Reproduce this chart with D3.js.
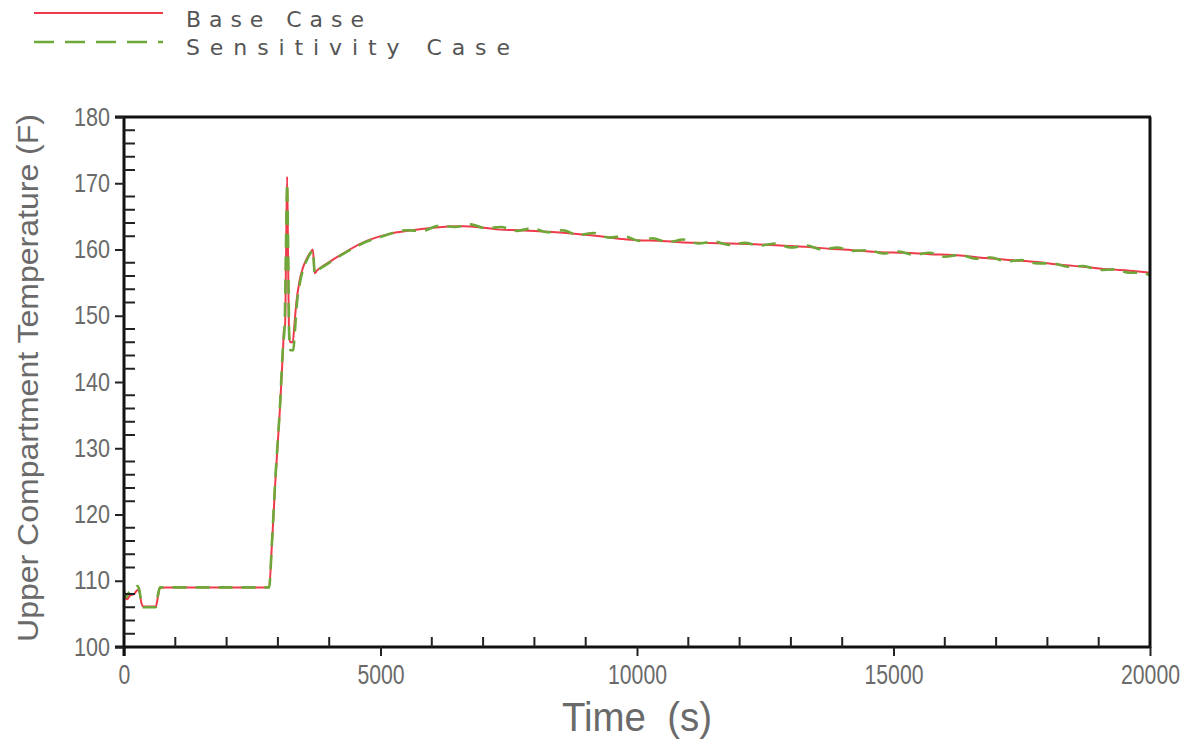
<!DOCTYPE html>
<html><head><meta charset="utf-8">
<script src="https://cdn.jsdelivr.net/npm/d3@7"></script>
<style>body{margin:0;background:#fff}svg{display:block}</style>
</head><body>
<svg id="c" width="1196" height="749"></svg>
<script>
const seriesNames = ["Base Case", "Sensitivity Case"];
const baseCase = [[0,107.6],[60,107.2],[120,107.8],[200,108.0],[260,108.6],[300,108.3],[340,106.6],[380,106.1],[620,106.1],[660,107.5],[700,108.9],[800,109.0],[2830,109.0],[2880,115],[2950,125],[3040,136],[3100,145],[3120,148],[3140,148.5],[3160,160],[3180,171],[3200,158],[3215,148],[3235,146],[3290,146],[3320,148.5],[3360,152],[3420,155.2],[3490,157.3],[3560,158.6],[3640,159.6],[3680,160.0],[3720,156.4],[3760,156.8],[3900,157.6],[4080,158.5],[4400,160.0],[4730,161.3],[5000,162.0],[5190,162.4],[5600,162.9],[6030,163.3],[6600,163.5],[7000,163.3],[7330,163.0],[7700,162.9],[8000,162.8],[8630,162.5],[9280,162.0],[9700,161.6],[10000,161.4],[10500,161.3],[10840,161.1],[11300,161.0],[11810,160.9],[12300,160.8],[12790,160.6],[13300,160.4],[13760,160.1],[14200,159.9],[14740,159.6],[15200,159.5],[15700,159.3],[16300,159.1],[16800,158.7],[17270,158.4],[17800,158.1],[18250,157.7],[18700,157.4],[19220,157.0],[19600,156.8],[20000,156.5]];
const sensitivityCase = [[0,108.6],[40,107.5],[100,108.3],[200,108.8],[260,109.2],[300,108.6],[340,106.6],[380,106.0],[620,106.0],[660,107.8],[700,109.0],[2830,109.0],[2880,115.2],[2950,125.4],[3040,136.3],[3100,145.5],[3130,148.2],[3160,162],[3180,170],[3200,160],[3220,147],[3245,144.8],[3300,144.8],[3330,147.5],[3370,151.8],[3430,155.0],[3500,157.2],[3570,158.5],[3640,159.5],[3680,159.9],[3720,156.3],[3760,156.7],[3900,157.5],[4080,158.4],[4400,159.9],[4730,161.2],[5000,161.9],[5200,162.4],[5500,162.9],[5800,162.8],[6150,163.6],[6450,163.4],[6750,163.8],[7050,163.2],[7350,163.4],[7650,162.8],[7950,163.2],[8250,162.6],[8550,162.9],[8850,162.2],[9150,162.5],[9450,161.8],[9750,162.0],[10050,161.3],[10300,161.7],[10600,161.1],[10900,161.5],[11200,160.9],[11500,161.2],[11800,160.7],[12100,161.0],[12400,160.6],[12700,160.9],[13000,160.3],[13300,160.6],[13600,160.0],[13900,160.3],[14200,159.8],[14500,159.9],[14800,159.4],[15100,159.7],[15400,159.2],[15700,159.5],[16000,158.9],[16300,159.2],[16600,158.6],[16900,158.8],[17200,158.2],[17500,158.4],[17800,157.9],[18100,157.9],[18400,157.4],[18700,157.5],[19000,156.9],[19300,157.0],[19600,156.5],[19800,156.5],[20000,156.1]];
const xTicks = [0,5000,10000,15000,20000];
const yTicks = [100,110,120,130,140,150,160,170,180];
const xMinorTicks = [1000,2000,3000,4000,6000,7000,8000,9000,11000,12000,13000,14000,16000,17000,18000,19000];
const yMinorTicks = [102,104,106,108,112,114,116,118,122,124,126,128,132,134,136,138,142,144,146,148,152,154,156,158,162,164,166,168,172,174,176,178];

const svg = d3.select("#c");
const L = 124, R = 1150, T = 117, B = 647;
const x = d3.scaleLinear().domain([0,20000]).range([L,R]);
const y = d3.scaleLinear().domain([100,180]).range([B,T]);
const red = "#ee3a4a", green = "#6fa83a";
const labelFont = "'Liberation Sans', Arial, sans-serif";

// lines
const line = d3.line().x(d=>x(d[0])).y(d=>y(d[1])).curve(d3.curveMonotoneX);
svg.append("path").datum(baseCase).attr("d", line).attr("fill","none").attr("stroke",red).attr("stroke-width",2);
svg.append("path").datum(sensitivityCase).attr("d", line).attr("fill","none").attr("stroke",green).attr("stroke-width",2.6).attr("stroke-dasharray","14,9");

// frame
const ax = svg.append("g").attr("stroke","#111").attr("stroke-width",3);
ax.append("line").attr("x1",L-9).attr("x2",R+1).attr("y1",T).attr("y2",T);
ax.append("line").attr("x1",R).attr("x2",R).attr("y1",T).attr("y2",B+1);

// axes
const xAxis = d3.axisBottom(x).tickValues(xTicks).tickSize(9).tickFormat(d3.format("d"));
const gx = svg.append("g").attr("transform",`translate(0,${B})`).call(xAxis);
gx.select(".domain").attr("stroke","#111").attr("stroke-width",3).attr("d",`M${L-9},0H${R+1}`);
gx.selectAll(".tick line").attr("stroke","#222").attr("stroke-width",2);
gx.selectAll(".tick text").attr("font-family",labelFont).attr("font-size",28).attr("fill","#6a6a6a").attr("dy","0.9em")
  .attr("textLength",d=>String(d).length*11.8).attr("lengthAdjust","spacingAndGlyphs");
svg.append("g").selectAll("line").data(xMinorTicks).join("line")
  .attr("x1",d=>x(d)).attr("x2",d=>x(d)).attr("y1",B).attr("y2",B-10).attr("stroke","#222").attr("stroke-width",2);

const yAxis = d3.axisLeft(y).tickValues(yTicks).tickSize(9).tickFormat(d3.format("d"));
const gy = svg.append("g").attr("transform",`translate(${L},0)`).call(yAxis);
gy.select(".domain").attr("stroke","#111").attr("stroke-width",3).attr("d",`M0,${T}V${B+9}`);
gy.selectAll(".tick line").attr("stroke","#222").attr("stroke-width",2);
gy.selectAll(".tick text").attr("font-family",labelFont).attr("font-size",25).attr("fill","#6a6a6a").attr("x",-14)
  .attr("textLength",36).attr("lengthAdjust","spacingAndGlyphs");
svg.append("g").selectAll("line").data(yMinorTicks).join("line")
  .attr("x1",L).attr("x2",L+11).attr("y1",d=>y(d)).attr("y2",d=>y(d)).attr("stroke","#222").attr("stroke-width",2);

// axis titles
svg.append("text").attr("x",637).attr("y",731).attr("text-anchor","middle").attr("font-family",labelFont)
  .attr("font-size",40).attr("fill","#6a6a6a").attr("textLength",150).attr("lengthAdjust","spacingAndGlyphs")
  .attr("xml:space","preserve").text("Time  (s)");
svg.append("text").attr("transform","translate(38,378) rotate(-90)").attr("text-anchor","middle").attr("font-family",labelFont)
  .attr("font-size",30).attr("fill","#6a6a6a").attr("textLength",528).attr("lengthAdjust","spacingAndGlyphs")
  .text("Upper Compartment Temperature (F)");

// legend
const leg = svg.append("g");
leg.append("line").attr("x1",34).attr("x2",163).attr("y1",13).attr("y2",13).attr("stroke",red).attr("stroke-width",2);
leg.append("line").attr("x1",34).attr("x2",163).attr("y1",42).attr("y2",42).attr("stroke",green).attr("stroke-width",2.5).attr("stroke-dasharray","20,11");
leg.append("text").attr("x",186).attr("y",27).attr("font-family","'DejaVu Sans', sans-serif").attr("font-size",22).attr("fill","#555")
  .attr("textLength",178).attr("lengthAdjust","spacing").text(seriesNames[0]);
leg.append("text").attr("x",186).attr("y",55).attr("font-family","'DejaVu Sans', sans-serif").attr("font-size",22).attr("fill","#555")
  .attr("textLength",324).attr("lengthAdjust","spacing").text(seriesNames[1]);
</script>
</body></html>
